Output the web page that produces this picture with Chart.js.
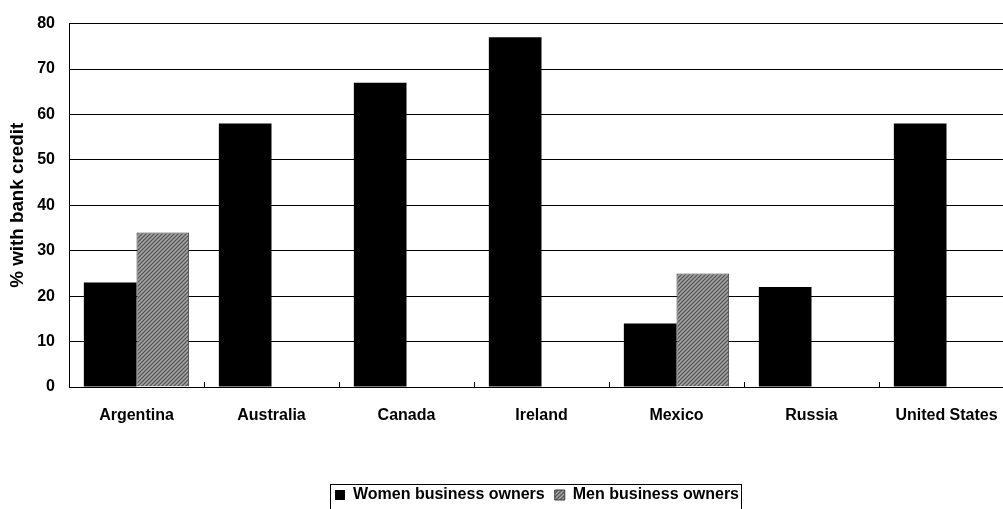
<!DOCTYPE html>
<html lang="en">
<head>
<meta charset="UTF-8">
<title>Business owners with bank credit</title>
<script src="https://cdn.jsdelivr.net/npm/chart.js"></script>
<style>
  body { margin: 0; background: #fff; overflow: hidden; }
  #wrap { width: 1069px; height: 509px; }
</style>
</head>
<body>
<div id="wrap"><canvas id="creditChart" width="1069" height="509"></canvas></div>
<script>
// Share of business owners with bank credit, by country
const countries = ['Argentina', 'Australia', 'Canada', 'Ireland', 'Mexico', 'Russia', 'United States'];
const womenOwners = [23, 58, 67, 77, 14, 22, 58];
const menOwners = [34, null, null, null, 25, null, null];
const seriesNames = ['Women business owners', 'Men business owners'];
const yTicks = [0, 10, 20, 30, 40, 50, 60, 70, 80];

const FONT = '"Liberation Sans", Arial, sans-serif';
const LEGEND_SHIFT = 30;

// fine diagonal hatch for the men series
function hatchPattern() {
  const c = document.createElement('canvas');
  c.width = 4; c.height = 4;
  const g = c.getContext('2d');
  g.fillStyle = '#858585';
  g.fillRect(0, 0, 4, 4);
  for (let i = 0; i < 4; i++) {
    g.fillStyle = '#555555';
    g.fillRect(i, 3 - i, 1, 1);
    g.fillStyle = '#a6a6a6';
    g.fillRect(i, (5 - i) % 4, 1, 1);
  }
  return g.createPattern(c, 'repeat');
}
const hatch = hatchPattern();

// legend sits a little right of the canvas centre, inside a thin frame
const legendFrame = {
  id: 'legendFrame',
  afterUpdate(chart) {
    const lg = chart.legend;
    lg.left += LEGEND_SHIFT;
    lg.right += LEGEND_SHIFT;
    lg.legendHitBoxes.forEach(h => { h.left += LEGEND_SHIFT; });
  },
  afterDraw(chart) {
    const boxes = chart.legend.legendHitBoxes;
    if (!boxes || !boxes.length) return;
    const first = boxes[0];
    const last = boxes[boxes.length - 1];
    const ctx = chart.ctx;
    const x0 = Math.round(first.left) - 4.5;
    const x1 = Math.round(last.left + last.width) + 2.5;
    const y0 = Math.round(first.top) - 2.5;
    ctx.save();
    ctx.strokeStyle = '#000';
    ctx.lineWidth = 1;
    ctx.strokeRect(x0, y0, x1 - x0, chart.height + 10 - y0);
    ctx.restore();
  }
};

new Chart(document.getElementById('creditChart'), {
  type: 'bar',
  data: {
    labels: countries,
    datasets: [
      {
        label: seriesNames[0],
        data: womenOwners,
        backgroundColor: '#000',
        borderColor: '#000',
        borderWidth: 0
      },
      {
        label: seriesNames[1],
        data: menOwners,
        backgroundColor: hatch,
        borderColor: '#3a3a3a',
        borderWidth: 1
      }
    ]
  },
  options: {
    responsive: false,
    animation: false,
    barPercentage: 1,
    categoryPercentage: 0.78,
    layout: { padding: { left: 0, right: 55, top: 22, bottom: -4 } },
    plugins: {
      tooltip: { enabled: false },
      legend: {
        position: 'bottom',
        labels: {
          color: '#000',
          boxWidth: 10,
          boxHeight: 10,
          padding: 10,
          font: { family: FONT, size: 16, weight: 'bold' }
        }
      }
    },
    scales: {
      x: {
        offset: true,
        grid: { drawOnChartArea: false, drawTicks: true, tickLength: -5, color: '#000' },
        border: { color: '#000', width: 1 },
        ticks: { color: '#000', padding: 24, font: { family: FONT, size: 16, weight: 'bold' } },
        afterFit(scale) { scale.height = 90; }
      },
      y: {
        min: 0,
        max: 80,
        afterBuildTicks(scale) { scale.ticks = yTicks.map(v => ({ value: v })); },
        grid: { color: '#000', lineWidth: 1, drawTicks: false },
        border: { color: '#000', width: 1 },
        ticks: { color: '#000', padding: 14, font: { family: FONT, size: 16, weight: 'bold' } },
        title: {
          display: true,
          text: '% with bank credit',
          color: '#000',
          padding: { top: 7, bottom: 0 },
          font: { family: FONT, size: 18.8, weight: 'bold' }
        },
        afterFit(scale) { scale.width = 69; }
      }
    }
  },
  plugins: [legendFrame]
});
</script>
</body>
</html>
